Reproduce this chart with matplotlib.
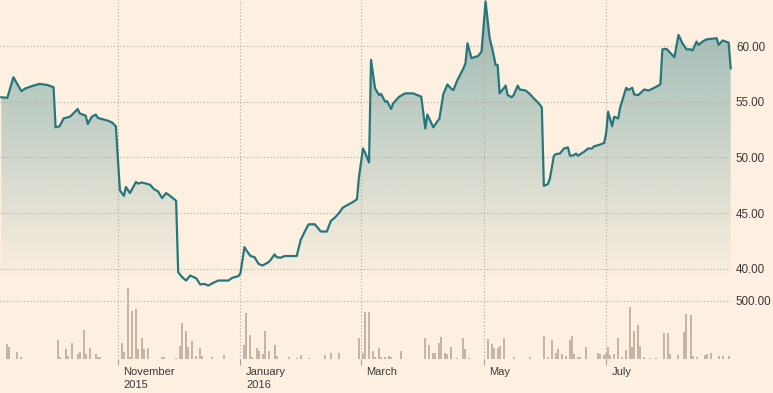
import matplotlib
matplotlib.use("Agg")
import matplotlib.pyplot as plt
import matplotlib.dates as mdates
from matplotlib.transforms import ScaledTranslation
from matplotlib.colors import to_rgb
import numpy as np
import pandas as pd

# closing price
price_dates = [
    "2015-09-04", "2015-09-07", "2015-09-10", "2015-09-14", "2015-09-16", "2015-09-20",
    "2015-09-23", "2015-09-27", "2015-09-30", "2015-10-01", "2015-10-03", "2015-10-05",
    "2015-10-08", "2015-10-09", "2015-10-12", "2015-10-13", "2015-10-16", "2015-10-17",
    "2015-10-19", "2015-10-21", "2015-10-22", "2015-10-27", "2015-10-29", "2015-10-31",
    "2015-11-02", "2015-11-04", "2015-11-05", "2015-11-07", "2015-11-10", "2015-11-11",
    "2015-11-13", "2015-11-17", "2015-11-19", "2015-11-21", "2015-11-23", "2015-11-25",
    "2015-11-27", "2015-11-30", "2015-12-01", "2015-12-03", "2015-12-05", "2015-12-07",
    "2015-12-10", "2015-12-12", "2015-12-14", "2015-12-16", "2015-12-18", "2015-12-21",
    "2015-12-26", "2015-12-28", "2015-12-31", "2016-01-01", "2016-01-03", "2016-01-04",
    "2016-01-06", "2016-01-08", "2016-01-10", "2016-01-12", "2016-01-15", "2016-01-16",
    "2016-01-18", "2016-01-19", "2016-01-21", "2016-01-23", "2016-01-29", "2016-01-31",
    "2016-02-03", "2016-02-04", "2016-02-07", "2016-02-10", "2016-02-13", "2016-02-15",
    "2016-02-17", "2016-02-19", "2016-02-21", "2016-02-23", "2016-02-26", "2016-02-28",
    "2016-02-29", "2016-03-02", "2016-03-03", "2016-03-05", "2016-03-06", "2016-03-08",
    "2016-03-10", "2016-03-11", "2016-03-13", "2016-03-14", "2016-03-16", "2016-03-17",
    "2016-03-20", "2016-03-23", "2016-03-27", "2016-03-31", "2016-04-02", "2016-04-03",
    "2016-04-06", "2016-04-08", "2016-04-09", "2016-04-11", "2016-04-13", "2016-04-15",
    "2016-04-16", "2016-04-18", "2016-04-19", "2016-04-21", "2016-04-22", "2016-04-23",
    "2016-04-25", "2016-04-27", "2016-04-28", "2016-04-30", "2016-05-02", "2016-05-04",
    "2016-05-06", "2016-05-07", "2016-05-08", "2016-05-09", "2016-05-11", "2016-05-12",
    "2016-05-13", "2016-05-15", "2016-05-16", "2016-05-18", "2016-05-19", "2016-05-22",
    "2016-05-24", "2016-05-26", "2016-05-28", "2016-05-30", "2016-05-31", "2016-06-02",
    "2016-06-03", "2016-06-05", "2016-06-06", "2016-06-08", "2016-06-10", "2016-06-12",
    "2016-06-13", "2016-06-15", "2016-06-16", "2016-06-17", "2016-06-19", "2016-06-20",
    "2016-06-22", "2016-06-24", "2016-06-25", "2016-06-28", "2016-06-30", "2016-07-01",
    "2016-07-02", "2016-07-04", "2016-07-05", "2016-07-07", "2016-07-08", "2016-07-11",
    "2016-07-12", "2016-07-14", "2016-07-15", "2016-07-17", "2016-07-20", "2016-07-22",
    "2016-07-25", "2016-07-28", "2016-07-29", "2016-07-31", "2016-08-04", "2016-08-06",
    "2016-08-08", "2016-08-10", "2016-08-12", "2016-08-13", "2016-08-15", "2016-08-16",
    "2016-08-18", "2016-08-20", "2016-08-25", "2016-08-26", "2016-08-28", "2016-08-31",
    "2016-09-01",
]
price_values = [
    55.4, 55.35, 57.2, 55.95, 56.2, 56.45,
    56.6, 56.5, 56.3, 52.7, 52.8, 53.5,
    53.65, 53.8, 54.35, 53.95, 53.75, 53.0,
    53.65, 53.85, 53.55, 53.3, 53.15, 52.8,
    47.05, 46.55, 47.35, 46.8, 47.8, 47.65,
    47.75, 47.55, 47.15, 46.95, 46.35, 46.8,
    46.55, 46.1, 39.7, 39.25, 38.95, 39.4,
    39.15, 38.6, 38.65, 38.5, 38.7, 38.95,
    38.95, 39.2, 39.35, 39.6, 41.95, 41.65,
    41.15, 41.05, 40.45, 40.3, 40.6, 40.8,
    41.3, 41.05, 41.0, 41.15, 41.15, 42.6,
    43.7, 44.0, 44.0, 43.35, 43.35, 44.3,
    44.6, 45.0, 45.5, 45.7, 46.0, 46.25,
    48.25, 50.8, 50.45, 49.55, 58.75, 56.2,
    55.6, 55.7, 55.0, 55.05, 54.35, 54.85,
    55.45, 55.75, 55.75, 55.45, 52.6, 53.85,
    52.7, 53.25, 53.45, 55.7, 56.55, 56.15,
    56.05, 56.95, 57.3, 58.0, 58.45, 60.25,
    58.9, 59.05, 59.05, 59.5, 64.0, 60.75,
    59.2, 58.3, 58.3, 55.75, 56.2, 56.45,
    55.6, 55.4, 55.6, 56.45, 56.1, 56.0,
    55.7, 55.3, 54.95, 54.5, 47.45, 47.6,
    48.1, 50.15, 50.3, 50.35, 50.8, 50.9,
    50.15, 50.2, 50.35, 50.15, 50.4, 50.5,
    50.8, 50.8, 51.0, 51.15, 51.3, 52.15,
    54.1, 52.8, 53.65, 53.5, 54.5, 56.25,
    56.05, 56.25, 55.65, 55.6, 56.1, 56.0,
    56.25, 56.55, 59.7, 59.75, 59.0, 61.0,
    60.25, 59.7, 59.7, 59.6, 60.4, 60.1,
    60.4, 60.6, 60.7, 60.1, 60.5, 60.3,
    58.0,
]

# traded volume
volume_dates = [
    "2015-09-07", "2015-09-08", "2015-09-12", "2015-09-14", "2015-10-02", "2015-10-03",
    "2015-10-06", "2015-10-07", "2015-10-09", "2015-10-12", "2015-10-13", "2015-10-15",
    "2015-10-16", "2015-10-18", "2015-10-21", "2015-10-22", "2015-10-23", "2015-11-03",
    "2015-11-04", "2015-11-06", "2015-11-07", "2015-11-08", "2015-11-10", "2015-11-11",
    "2015-11-13", "2015-11-14", "2015-11-16", "2015-11-23", "2015-11-24", "2015-11-30",
    "2015-12-02", "2015-12-03", "2015-12-05", "2015-12-06", "2015-12-08", "2015-12-10",
    "2015-12-12", "2015-12-13", "2015-12-18", "2015-12-24", "2016-01-03", "2016-01-04",
    "2016-01-06", "2016-01-07", "2016-01-09", "2016-01-10", "2016-01-12", "2016-01-13",
    "2016-01-15", "2016-01-18", "2016-01-19", "2016-01-25", "2016-01-29", "2016-01-31",
    "2016-02-04", "2016-02-12", "2016-02-15", "2016-02-19", "2016-02-29", "2016-03-02",
    "2016-03-03", "2016-03-05", "2016-03-07", "2016-03-08", "2016-03-10", "2016-03-11",
    "2016-03-13", "2016-03-15", "2016-03-16", "2016-03-21", "2016-04-02", "2016-04-04",
    "2016-04-06", "2016-04-07", "2016-04-09", "2016-04-10", "2016-04-12", "2016-04-13",
    "2016-04-15", "2016-04-18", "2016-04-21", "2016-04-22", "2016-04-24", "2016-05-03",
    "2016-05-05", "2016-05-06", "2016-05-08", "2016-05-09", "2016-05-11", "2016-05-16",
    "2016-05-24", "2016-05-31", "2016-06-02", "2016-06-04", "2016-06-06", "2016-06-07",
    "2016-06-09", "2016-06-11", "2016-06-13", "2016-06-14", "2016-06-15", "2016-06-17",
    "2016-06-18", "2016-06-21", "2016-06-27", "2016-06-28", "2016-06-30", "2016-07-01",
    "2016-07-02", "2016-07-03", "2016-07-05", "2016-07-07", "2016-07-09", "2016-07-11",
    "2016-07-13", "2016-07-14", "2016-07-15", "2016-07-17", "2016-07-18", "2016-07-20",
    "2016-07-23", "2016-07-26", "2016-07-30", "2016-08-01", "2016-08-02", "2016-08-06",
    "2016-08-09", "2016-08-10", "2016-08-12", "2016-08-13", "2016-08-15", "2016-08-19",
    "2016-08-20", "2016-08-22", "2016-08-26", "2016-08-28", "2016-08-31",
]
volume_values = [
    127, 101, 58, 14, 162, 14,
    84, 26, 136, 38, 55, 249,
    40, 92, 40, 17, 14, 136,
    58, 613, 14, 413, 431, 84,
    179, 84, 92, 14, 14, 9,
    113, 309, 240, 101, 150, 26,
    92, 26, 17, 32, 118, 396,
    205, 14, 92, 66, 40, 237,
    66, 118, 26, 14, 9, 29,
    9, 29, 46, 46, 179, 46,
    402, 402, 64, 17, 90, 15,
    14, 20, 12, 64, 179, 118,
    49, 49, 136, 188, 49, 38,
    101, 6, 179, 84, 6, 171,
    127, 92, 92, 113, 179, 12,
    12, 194, 17, 162, 46, 84,
    40, 20, 162, 194, 40, 14,
    14, 101, 46, 40, 29, 49,
    101, 32, 38, 179, 14, 72,
    448, 101, 237, 289, 107, 14,
    9, 9, 223, 223, 40, 32,
    231, 387, 376, 26, 14, 32,
    40, 46, 20, 20, 20,
]

month_ticks = ["2015-11-01", "2016-01-01", "2016-03-01", "2016-05-01", "2016-07-01"]
month_labels = ["November\n2015", "January\n2016", "March", "May", "July"]
price_ticks = [40, 45, 50, 55, 60]
volume_ticks = [500]

bg = "#fdf0e1"
line_c = "#25777c"
bar_c = "#c6b5a3"
grid_c = "#b3a89d"
text_c = "#3a3a3a"

plt.rcParams["font.family"] = ["Liberation Sans", "DejaVu Sans"]
plt.rcParams["font.size"] = 8

fig = plt.figure(figsize=(7.73, 3.93), dpi=100, facecolor=bg)
ax = fig.add_axes([0, 0.2799, 0.9457, 0.7201])
axv = fig.add_axes([0, 0.0873, 0.9457, 0.1926], sharex=ax)

xlim = (pd.Timestamp("2015-09-03 08:00"), pd.Timestamp("2016-09-01 04:00"))
ylo, yhi = 38.73, 64.13

dates = pd.to_datetime(price_dates)

# gradient under the price line, fading out towards the bottom
fill = ax.fill_between(dates, price_values, ylo, facecolor="none", edgecolor="none")
grad = np.zeros((256, 1, 4))
grad[:, :, :3] = to_rgb(line_c)
grad[:, 0, 3] = np.linspace(0.47, 0.0, 256)
x0, x1 = mdates.date2num(xlim[0]), mdates.date2num(xlim[1])
im = ax.imshow(grad, aspect="auto", extent=[x0, x1, ylo, yhi], origin="upper",
               zorder=1, interpolation="bilinear")
im.set_clip_path(fill.get_paths()[0], transform=ax.transData)

ax.plot(dates, price_values, color=line_c, lw=1.6, zorder=5,
        solid_joinstyle="round", clip_on=False)

axv.bar(pd.to_datetime(volume_dates), volume_values, width=1.0, color=bar_c,
        linewidth=0, zorder=2)

for a in (ax, axv):
    a.set_facecolor("none")
    for s in a.spines.values():
        s.set_visible(False)
    a.grid(True, color=grid_c, linestyle=(0, (1, 2)), linewidth=0.8)
    a.yaxis.tick_right()
    a.tick_params(axis="y", length=0, pad=3.5, labelsize=8.4, labelcolor=text_c)

ax.set_xlim(*xlim)
ax.set_ylim(ylo, yhi)
ax.set_yticks(price_ticks)
ax.set_yticklabels([f"{v:.2f}" for v in price_ticks])
ax.tick_params(axis="x", length=0, labelbottom=False)

axv.set_ylim(0, 656)
axv.set_yticks(volume_ticks)
axv.set_yticklabels([f"{v:.2f}" for v in volume_ticks])
axv.set_xticks(pd.to_datetime(month_ticks))
axv.set_xticklabels(month_labels, ha="left", linespacing=1.35)
axv.tick_params(axis="x", length=4, width=0.8, color="#a8a29a", pad=2,
                labelsize=8, labelcolor=text_c)
offset = ScaledTranslation(4 / 72, 0, fig.dpi_scale_trans)
for lab in axv.get_xticklabels():
    lab.set_transform(lab.get_transform() + offset)

# the price panel sits above the volume panel so its line is not hidden
ax.set_zorder(axv.get_zorder() + 1)

fig.savefig("out.png", dpi=100, facecolor=bg)
